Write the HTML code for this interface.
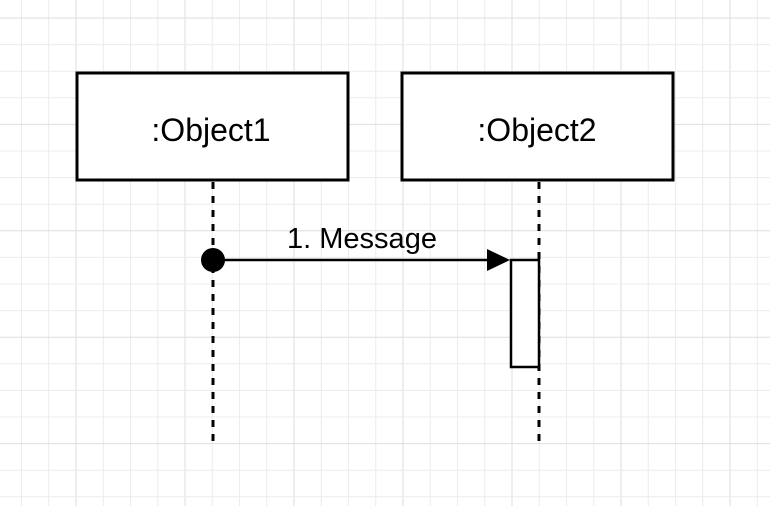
<!DOCTYPE html>
<html><head><style>body{margin:0;background:#fff}svg{display:block}</style></head><body>
<svg width="770" height="506" xmlns="http://www.w3.org/2000/svg">
<g stroke="#ececec" stroke-width="1">
<g id="v"></g>
</g>
<script>
(function(){var g=document.getElementById('v'),ns='http://www.w3.org/2000/svg';
for(var i=-3;i<30;i++){var x=76+i*27.25;if(x<0||x>770)continue;var l=document.createElementNS(ns,'line');l.setAttribute('x1',x);l.setAttribute('x2',x);l.setAttribute('y1',0);l.setAttribute('y2',506);if(i%4==0)l.setAttribute('stroke','#dedede');g.appendChild(l);}
for(var j=-2;j<25;j++){var y=18+j*26.6;if(y<0||y>506)continue;var l=document.createElementNS(ns,'line');l.setAttribute('y1',y);l.setAttribute('y2',y);l.setAttribute('x1',0);l.setAttribute('x2',770);if(j%4==0)l.setAttribute('stroke','#dedede');g.appendChild(l);}
})();
</script>
<g fill="#fff" stroke="#000" stroke-width="3">
<rect x="77" y="73" width="271" height="107"/>
<rect x="402" y="73" width="271" height="107"/>
</g>
<g stroke="#000" stroke-width="3" stroke-dasharray="7,7">
<line x1="213" y1="182" x2="213" y2="443"/>
<line x1="539" y1="182" x2="539" y2="443"/>
</g>
<rect x="511" y="260" width="28" height="107" fill="#fff" stroke="#000" stroke-width="2.5"/>
<line x1="213" y1="260" x2="492" y2="260" stroke="#000" stroke-width="2.5"/>
<polygon points="487,249 510,260 487,271" fill="#000"/>
<circle cx="213" cy="260" r="12" fill="#000"/>
<g font-family="Liberation Sans, sans-serif" fill="#000" text-anchor="middle">
<text x="211" y="141" font-size="32">:Object1</text>
<text x="537" y="141" font-size="32">:Object2</text>
<text x="362" y="248" font-size="29">1. Message</text>
</g>
</svg>
</body></html>
